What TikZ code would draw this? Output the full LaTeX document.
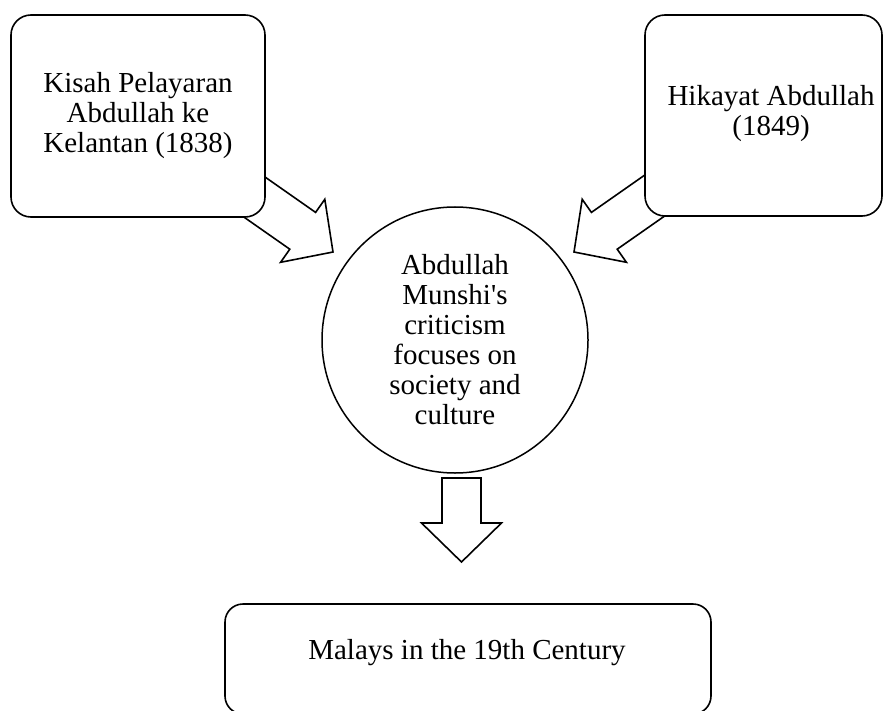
\documentclass[tikz,border=0pt]{standalone}
\usepackage{fontspec}
\setmainfont{Liberation Serif}
\begin{document}
\begin{tikzpicture}[x=1pt,y=-1pt,
  box/.style={draw, line width=1.6pt, rounded corners=20pt, fill=white, inner sep=0pt},
  lbl/.style={align=center, font=\fontsize{29}{30}\selectfont, inner sep=0pt},
  blockarrow/.style={draw, line width=1.6pt, fill=white, line join=miter}]
\useasboundingbox (0,0) rectangle (885,711);

% block arrows (tails hidden behind the boxes)
\draw[blockarrow] (197.2,184.4) -- (289.8,249.2) -- (280.6,262.3) -- (333,252) -- (324.8,199.3) -- (315.6,212.4) -- (223,147.6) -- cycle;
\draw[blockarrow] (709.8,184.4) -- (617.2,249.2) -- (626.4,262.3) -- (574,252) -- (582.2,199.3) -- (591.4,212.4) -- (684,147.6) -- cycle;
\draw[blockarrow] (442,478) -- (442,523) -- (421.5,523) -- (461.5,562) -- (501.5,523) -- (481,523) -- (481,478) -- cycle;

% boxes
\node[box, lbl, minimum width=254pt, minimum height=202pt] (kisah) at (138,116)
  {Kisah Pelayaran\\Abdullah ke\\Kelantan (1838)};
\node[box, minimum width=237pt, minimum height=201pt] (hikayat) at (763.5,115.5) {};
\node[lbl] (hikayattext) at (771,114) {Hikayat Abdullah\\(1849)};

\node[draw, circle, line width=1.5pt, minimum size=266pt, inner sep=0pt, lbl] (centre) at (455,340)
  {Abdullah\\Munshi\textquotesingle s\\criticism\\focuses on\\society and\\culture};

\node[box, rounded corners=18pt, minimum width=486pt, minimum height=110pt] (malays) at (468,659) {};
\node[lbl] (malaystext) at (467,653) {Malays in the 19th Century};
\end{tikzpicture}
\end{document}
